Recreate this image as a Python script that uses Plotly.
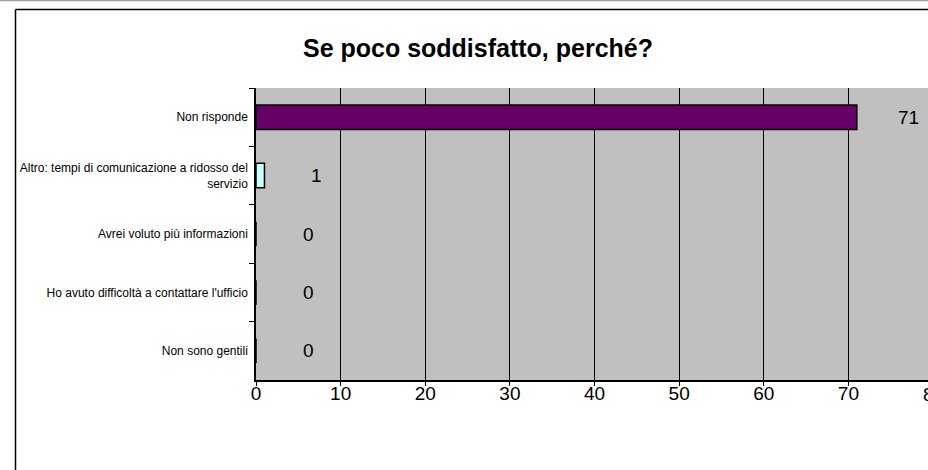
import plotly.graph_objects as go

# ---- data ----
categories = [
    "Non risponde",
    "Altro: tempi di comunicazione a ridosso del<br>servizio",
    "Avrei voluto più informazioni",
    "Ho avuto difficoltà a contattare l'ufficio",
    "Non sono gentili",
]
values = [71, 1, 0, 0, 0]
bar_colors = ["#660066", "#CCFFFF", "#CCFFFF", "#CCFFFF", "#CCFFFF"]
x_ticks = [0, 10, 20, 30, 40, 50, 60, 70, 80]
title_text = "Se poco soddisfatto, perché?"

# ---- layout geometry (pixels) ----
W, H = 928, 470
PL, PT, PB = 256, 88, 380      # plot area left / top / bottom
PX_PER_UNIT = 8.4625            # horizontal scale of the reference
pw, ph = W - PL, PB - PT
x_max = pw / PX_PER_UNIT       # axis is cut by the right edge, as in the reference

def px_x(x):
    return (x - PL) / pw

def px_y(y):
    return (PB - y) / ph

SANS = "Liberation Sans, Arial, sans-serif"

fig = go.Figure()
fig.add_trace(go.Bar(
    x=values, y=categories, orientation="h",
    marker=dict(color=bar_colors, line=dict(color="#000000", width=1.5)),
    width=0.42, hoverinfo="x+y", showlegend=False,
))

annotations = []
for v, c in zip(values, categories):
    annotations.append(dict(
        x=v, y=c, xref="x", yref="y", text=str(v), showarrow=False,
        xanchor="center", yanchor="middle", xshift=52,
        font=dict(family=SANS, size=19, color="#000000"),
    ))
# tick labels that fall past the visible end of the axis (cut by the edge)
for t in x_ticks:
    if t > x_max:
        annotations.append(dict(
            x=t / x_max, y=0, xref="paper", yref="paper", text=str(t), showarrow=False,
            xanchor="center", yanchor="top", yshift=-2,
            font=dict(family=SANS, size=19, color="#000000"),
        ))

shapes = [
    # outer chart border (top and left edges; the rest lies outside the picture)
    dict(type="line", xref="paper", yref="paper",
         x0=px_x(15.5), x1=px_x(W + 5), y0=px_y(9.5), y1=px_y(9.5),
         line=dict(color="#000000", width=1.5)),
    dict(type="line", xref="paper", yref="paper",
         x0=px_x(15.5), x1=px_x(15.5), y0=px_y(9.5), y1=px_y(H + 5),
         line=dict(color="#000000", width=1.5)),
    # thin grey line at the very top
    dict(type="line", xref="paper", yref="paper",
         x0=px_x(0), x1=px_x(W), y0=px_y(0.5), y1=px_y(0.5),
         line=dict(color="#A0A0A0", width=1.5)),
]

fig.update_layout(
    width=W, height=H,
    margin=dict(l=PL, r=0, t=PT, b=H - PB, pad=0),
    paper_bgcolor="#FFFFFF",
    plot_bgcolor="#C0C0C0",
    title=dict(text="<b>" + title_text + "</b>", x=px_x(478), xref="paper",
               xanchor="center", y=1 - 48 / H, yref="container", yanchor="middle",
               font=dict(family=SANS, size=25, color="#000000")),
    xaxis=dict(range=[0, x_max], tickvals=x_ticks, ticktext=[str(t) for t in x_ticks],
               showgrid=True, gridcolor="#000000", gridwidth=1,
               showline=True, linecolor="#000000", linewidth=1.5,
               ticks="outside", ticklen=4, tickcolor="#000000",
               ticklabelstandoff=-9,
               tickfont=dict(family=SANS, size=19, color="#000000"),
               zeroline=False, fixedrange=True),
    yaxis=dict(autorange="reversed", showgrid=False,
               showline=True, linecolor="#000000", linewidth=1.5,
               ticks="outside", ticklen=5, tickcolor="#000000",
               tickson="boundaries", ticklabelstandoff=4,
               tickfont=dict(family=SANS, size=12, color="#000000"),
               fixedrange=True),
    bargap=0.58,
    annotations=annotations,
    shapes=shapes,
)

fig.write_html(
    "out.html",
    config={"displayModeBar": False},
    post_script="document.body.style.margin='0';",
)
